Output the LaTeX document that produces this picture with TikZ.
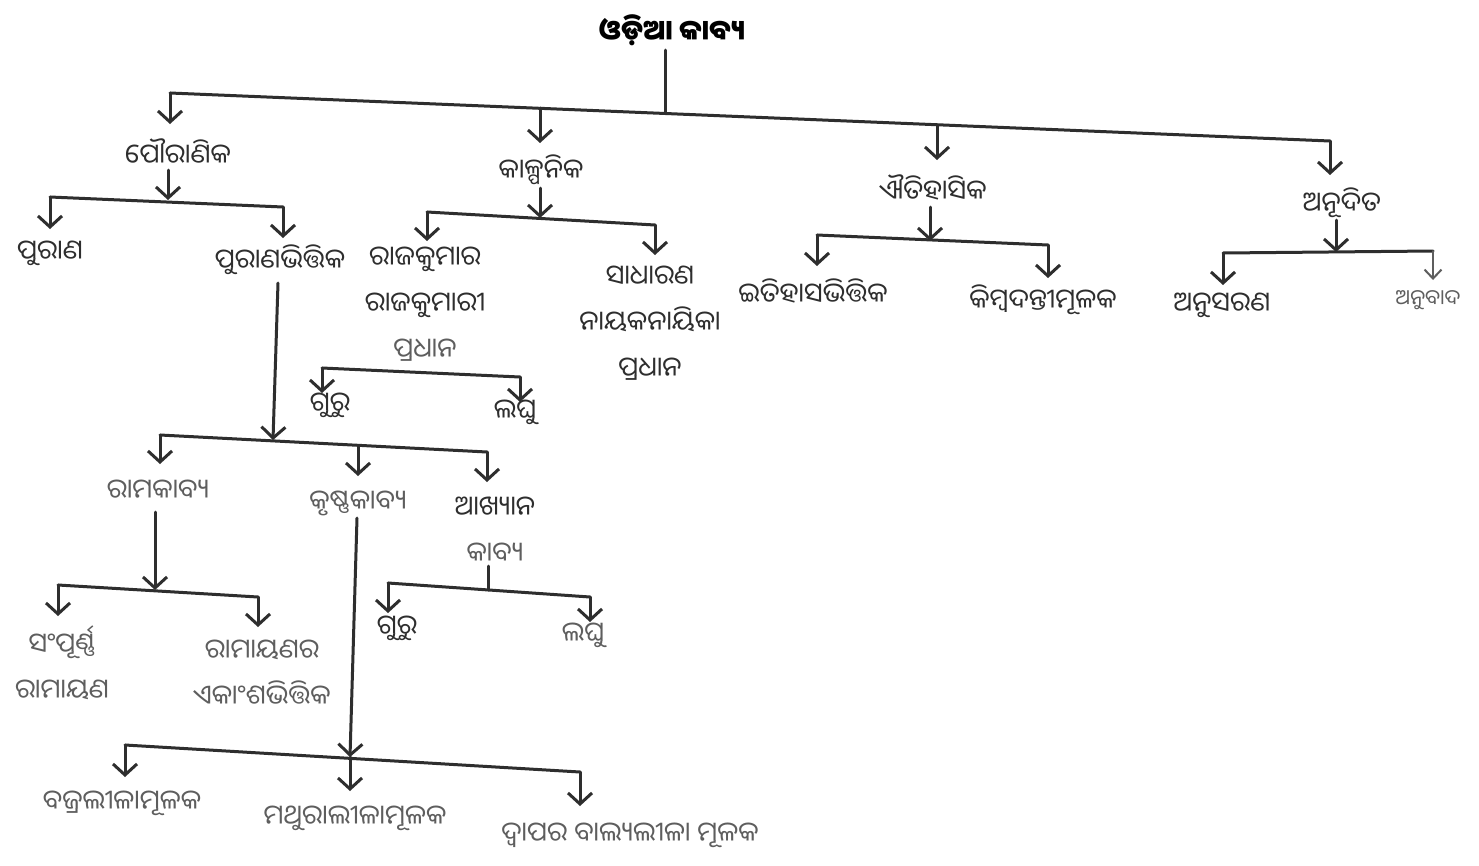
\documentclass[tikz,border=0pt]{standalone}
\usepackage{fontspec}
\newfontfamily\oriya[Script=Oriya]{Noto Sans Oriya UI}
\usetikzlibrary{arrows.meta}
\definecolor{ink}{HTML}{2E2E2E}
\definecolor{pale}{HTML}{5E5E5E}
\tikzset{
  lbl/.style={font=\oriya\fontsize{27}{46}\selectfont, text=ink, inner sep=0pt, align=center},
  lblpale/.style={lbl, text=pale},
  lblsmall/.style={lbl, text=pale, font=\oriya\fontsize{21}{25}\selectfont},
  ttl/.style={font=\oriya\bfseries\fontsize{28}{32}\selectfont, text=black, inner sep=0pt},
  wire/.style={draw=ink, line width=3pt, line cap=round, line join=round},
  arr/.style={wire, -{Straight Barb[length=11pt,width=24pt]}},
  arrthin/.style={draw=pale, line width=2pt, line cap=round, -{Straight Barb[length=9pt,width=17pt]}}
}
\begin{document}
\begin{tikzpicture}[x=1pt,y=-1pt]
\useasboundingbox[fill=white] (0,0) rectangle (1479,865);

% ---------- labels ----------
\node[ttl] (root) at (672,30) {ଓଡ଼ିଆ କାବ୍ୟ};

\node[lbl] (pau) at (178,152) {ପୌରାଣିକ};
\node[lbl] (kal) at (541,170) {କାଳ୍ପନିକ};
\node[lbl] (ait) at (933,188) {ଐତିହାସିକ};
\node[lbl] (anu) at (1342,203) {ଅନୂଦିତ};

\node[lbl] (pur) at (50,253) {ପୁରାଣ};
\node[lbl] (purb) at (280,260) {ପୁରାଣଭିତ୍ତିକ};

\node[lbl] (raj) at (425,282) {ରାଜକୁମାର\\ରାଜକୁମାରୀ};
\node[lblpale] (rajp) at (425,350) {ପ୍ରଧାନ};
\node[lbl] (sad) at (650,323) {ସାଧାରଣ\\ନାୟକନାୟିକା\\ପ୍ରଧାନ};
\node[lbl] (guru1) at (330,405) {ଗୁରୁ};
\node[lbl] (laghu1) at (515,412) {ଲଘୁ};

\node[lbl] (itih) at (813,292) {ଇତିହାସଭିତ୍ତିକ};
\node[lbl] (kimb) at (1043,300) {କିମ୍ବଦନ୍ତୀମୂଳକ};

\node[lbl] (anus) at (1222,305) {ଅନୁସରଣ};
\node[lblsmall] (anub) at (1428,300) {ଅନୁବାଦ};

\node[lblpale] (ram) at (158,490) {ରାମକାବ୍ୟ};
\node[lblpale] (kri) at (358,503) {କୃଷ୍ଣକାବ୍ୟ};
\node[lbl] (akh) at (495,507) {ଆଖ୍ୟାନ};
\node[lblpale] (akhk) at (495,553) {କାବ୍ୟ};

\node[lblpale] (samp) at (62,663) {ସଂପୂର୍ଣ୍ଣ\\ରାମାୟଣ};
\node[lblpale] (ekam) at (262,673) {ରାମାୟଣର\\ଏକାଂଶଭିତ୍ତିକ};
\node[lbl] (guru2) at (397,628) {ଗୁରୁ};
\node[lblpale] (laghu2) at (583,635) {ଲଘୁ};

\node[lblpale] (braj) at (122,803) {ବଜ୍ରଲୀଳାମୂଳକ};
\node[lblpale] (math) at (355,818) {ମଥୁରାଲୀଳାମୂଳକ};
\node[lblpale] (dwap) at (630,835) {ଦ୍ୱାପର ବାଲ୍ୟଲୀଳା ମୂଳକ};

% ---------- junction points ----------
\coordinate (r0) at (665,50);
\coordinate (j0) at (665,113);
\coordinate (b0l) at (170,93);   \coordinate (b0r) at (1330,141);
\coordinate (b0a) at (540,108);  \coordinate (b0b) at (937,125);

\coordinate (p0) at (168,170);   \coordinate (j1) at (168,200);
\coordinate (b1l) at (50,197);   \coordinate (b1r) at (283,207);

\coordinate (q0) at (278,283);   \coordinate (j2) at (273,440);
\coordinate (b2l) at (160,435);  \coordinate (b2m) at (358,447); \coordinate (b2r) at (487,452);

\coordinate (k0) at (540,188);   \coordinate (j3) at (540,218);
\coordinate (b3l) at (427,212);  \coordinate (b3r) at (655,225);

\coordinate (b4l) at (322,368);  \coordinate (b4r) at (520,377);

\coordinate (a0) at (930,207);   \coordinate (j5) at (930,241);
\coordinate (b5l) at (817,235);  \coordinate (b5r) at (1048,245);

\coordinate (n0) at (1336,220);  \coordinate (j6) at (1336,252);
\coordinate (b6l) at (1223,253); \coordinate (b6r) at (1433,251);

\coordinate (m0) at (155,512);   \coordinate (j7) at (155,590);
\coordinate (b7l) at (58,585);   \coordinate (b7r) at (258,597);

\coordinate (c0) at (357,518);   \coordinate (j8) at (350,757);
\coordinate (b8l) at (125,745);  \coordinate (b8r) at (580,772);

\coordinate (x0) at (488,566);   \coordinate (j9) at (488,590);
\coordinate (b9l) at (388,583);  \coordinate (b9r) at (590,597);

% ---------- connectors ----------
% root
\draw[wire] (r0) -- (j0);
\draw[wire] (b0l) -- (b0r);
\draw[arr] (b0l) -- ++(0,31) coordinate (t-pau);
\draw[arr] (b0a) -- ++(0,35) coordinate (t-kal);
\draw[arr] (b0b) -- ++(0,35) coordinate (t-ait);
\draw[arr] (b0r) -- ++(0,34) coordinate (t-anu);

% pauranika
\draw[arr] (p0) -- (j1);
\draw[wire] (b1l) -- (b1r);
\draw[arr] (b1l) -- ++(0,32) coordinate (t-pur);
\draw[arr] (b1r) -- ++(0,31) coordinate (t-purb);

% puranabhittika
\draw[arr] (q0) -- (j2);
\draw[wire] (b2l) -- (b2r);
\draw[arr] (b2l) -- ++(0,29) coordinate (t-ram);
\draw[arr] (b2m) -- ++(0,29) coordinate (t-kri);
\draw[arr] (b2r) -- ++(0,30) coordinate (t-akh);

% kalpanika
\draw[arr] (k0) -- (j3);
\draw[wire] (b3l) -- (b3r);
\draw[arr] (b3l) -- ++(0,29) coordinate (t-raj);
\draw[arr] (b3r) -- ++(0,30) coordinate (t-sad);

% rajakumara pradhana
\draw[wire] (b4l) -- (b4r);
\draw[arr] (b4l) -- ++(0,25) coordinate (t-guru1);
\draw[arr] (b4r) -- ++(0,25) coordinate (t-laghu1);

% aitihasika
\draw[arr] (a0) -- (j5);
\draw[wire] (b5l) -- (b5r);
\draw[arr] (b5l) -- ++(0,31) coordinate (t-itih);
\draw[arr] (b5r) -- ++(0,33) coordinate (t-kimb);

% anudita
\draw[arr] (n0) -- (j6);
\draw[wire] (b6l) -- (b6r);
\draw[arr] (b6l) -- ++(0,32) coordinate (t-anus);
\draw[arrthin] (b6r) -- ++(0,29) coordinate (t-anub);

% ramakabya
\draw[arr] (m0) -- (j7);
\draw[wire] (b7l) -- (b7r);
\draw[arr] (b7l) -- ++(0,31) coordinate (t-samp);
\draw[arr] (b7r) -- ++(0,30) coordinate (t-ekam);

% krishnakabya
\draw[arr] (c0) -- (j8);
\draw[wire] (b8l) -- (b8r);
\draw[arr] (b8l) -- ++(0,32) coordinate (t-braj);
\draw[arr] (j8) -- ++(0,34) coordinate (t-math);
\draw[arr] (b8r) -- ++(0,34) coordinate (t-dwap);

% akhyana kabya
\draw[wire] (x0) -- (j9);
\draw[wire] (b9l) -- (b9r);
\draw[arr] (b9l) -- ++(0,30) coordinate (t-guru2);
\draw[arr] (b9r) -- ++(0,25) coordinate (t-laghu2);
\end{tikzpicture}
\end{document}
